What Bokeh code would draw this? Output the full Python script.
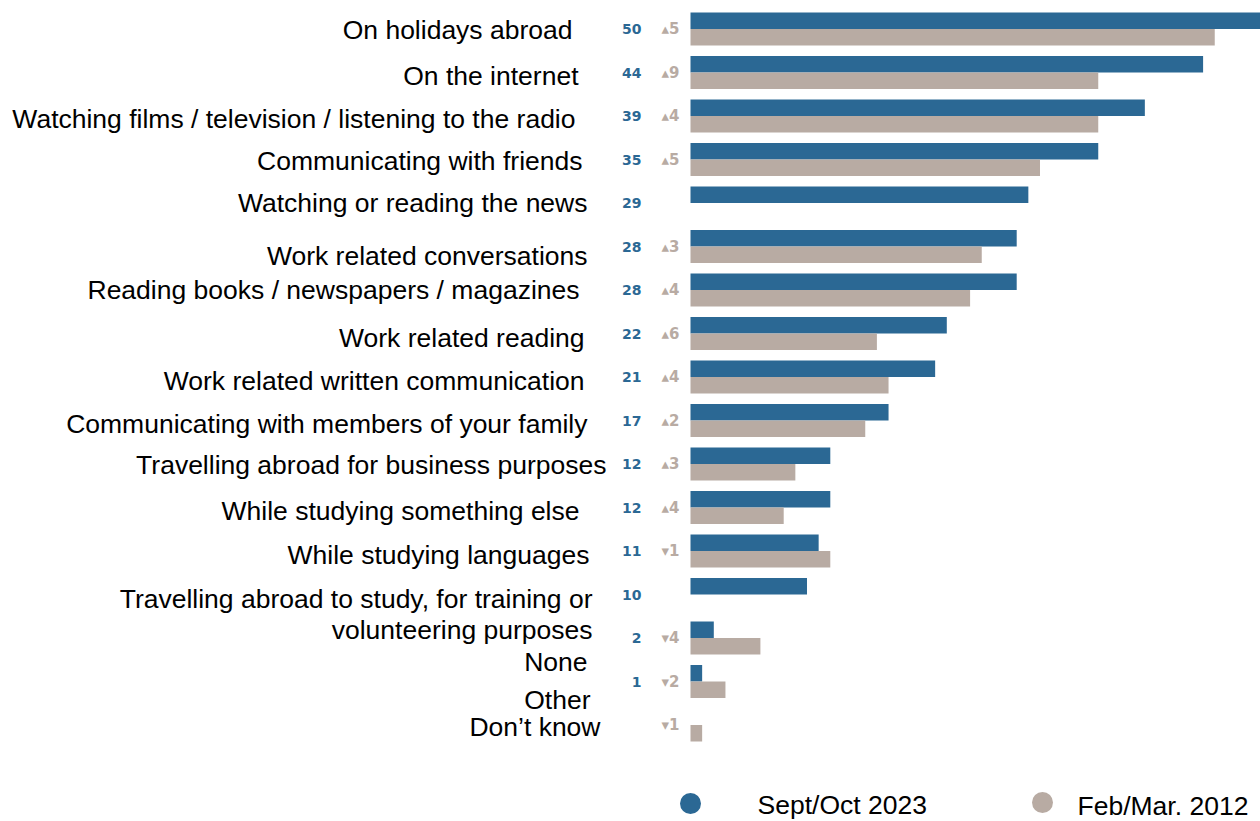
import numpy as np
from bokeh.plotting import figure
from bokeh.models import Range1d, ColumnDataSource
from bokeh.core.properties import value
from bokeh.embed import file_html
from bokeh.resources import INLINE

# ---------------- data ----------------
categories = [
    "On holidays abroad",
    "On the internet",
    "Watching films / television / listening to the radio",
    "Communicating with friends",
    "Watching or reading the news",
    "Work related conversations",
    "Reading books / newspapers / magazines",
    "Work related reading",
    "Work related written communication",
    "Communicating with members of your family",
    "Travelling abroad for business purposes",
    "While studying something else",
    "While studying languages",
    "Travelling abroad to study, for training or\nvolunteering purposes",
    "None",
    "Other",
    "Don\u2019t know",
]
v2023 = [50, 44, 39, 35, 29, 28, 28, 22, 21, 17, 12, 12, 11, 10, 2, 1, None]
v2012 = [45, 35, 35, 30, None, 25, 24, 16, 17, 15, 9, 8, 12, None, 6, 3, 1]
series_names = ["Sept/Oct 2023", "Feb/Mar. 2012"]

# ---------------- layout / style ----------------
BLUE = "#2b6894"
GREY = "#b8aba3"
PX = 11.65          # pixels per percentage point
X0 = 690            # pixel of value 0
W, H = 1260, 821
ROW0, ROWSTEP, BARH = 28.5, 43.5, 16.5
# fine layout tweaks for the category labels (pixel right edge, pixel y shift)
label_right = [572, 578, 575, 582, 587, 587, 579, 584, 584, 587, 606, 579, 589, 592, 587, 590, 600]
label_dy = [1, 3, 3, 1, 0, 9, 0, 4, 4, 3, 1, 3, 4, 20, 24, 18, 2]

def px2x(p):
    return (p - X0) / PX

n = len(categories)
rows = ROW0 + ROWSTEP * np.arange(n)

p = figure(width=W, height=H, output_backend="svg", toolbar_location=None,
           x_range=Range1d(px2x(0), px2x(W)), y_range=Range1d(H, 0),
           x_axis_location=None, y_axis_location=None,
           min_border=0, min_border_left=0, min_border_right=0,
           min_border_top=0, min_border_bottom=0)
p.outline_line_color = None
p.xgrid.visible = False
p.ygrid.visible = False
p.background_fill_color = "white"
p.border_fill_color = "white"

# bars
b_y = [r - BARH / 2 for r, v in zip(rows, v2023) if v is not None]
b_v = [v for v in v2023 if v is not None]
g_y = [r + BARH / 2 for r, v in zip(rows, v2012) if v is not None]
g_v = [v for v in v2012 if v is not None]
p.hbar(y=b_y, left=0, right=b_v, height=BARH, fill_color=BLUE, line_color=None)
p.hbar(y=g_y, left=0, right=g_v, height=BARH, fill_color=GREY, line_color=None)

# value labels (2023)
vl_y = [r for r, v in zip(rows, v2023) if v is not None]
vl_t = [str(v) for v in v2023 if v is not None]
p.text(x=px2x(641), y=vl_y, text=vl_t, text_align="right", text_baseline="middle",
       text_font=value("DejaVu Sans"), text_font_style="bold",
       text_font_size="14px", text_color=BLUE)

# change labels
ch_y, ch_t = [], []
for r, a, b in zip(rows, v2023, v2012):
    if b is None:
        continue
    d = (a or 0) - b
    ch_y.append(r)
    ch_t.append(("\u25b4" if d >= 0 else "\u25be") + str(abs(d)))
p.text(x=px2x(661), y=ch_y, text=ch_t, text_align="left", text_baseline="middle",
       text_font=value("DejaVu Sans"), text_font_style="bold",
       text_font_size="15px", text_color=GREY)

# category labels
src = ColumnDataSource(dict(
    x=[px2x(r) for r in label_right],
    y=[r + d for r, d in zip(rows, label_dy)],
    t=categories,
))
p.text(x="x", y="y", text="t", source=src, text_align="right", text_baseline="middle",
       text_font=value("Liberation Sans"), text_font_size="26.5px", text_color="black",
       text_line_height=1.05)

# legend
p.scatter(x=[px2x(690), px2x(1042)], y=[803, 802], size=21,
          fill_color=[BLUE, GREY], line_color=None)
p.text(x=[px2x(757), px2x(1077)], y=[804, 805], text=series_names,
       text_align="left", text_baseline="middle",
       text_font=value("Liberation Sans"), text_font_size="26.5px", text_color="black")

open("out.html", "w").write(file_html(p, INLINE))
